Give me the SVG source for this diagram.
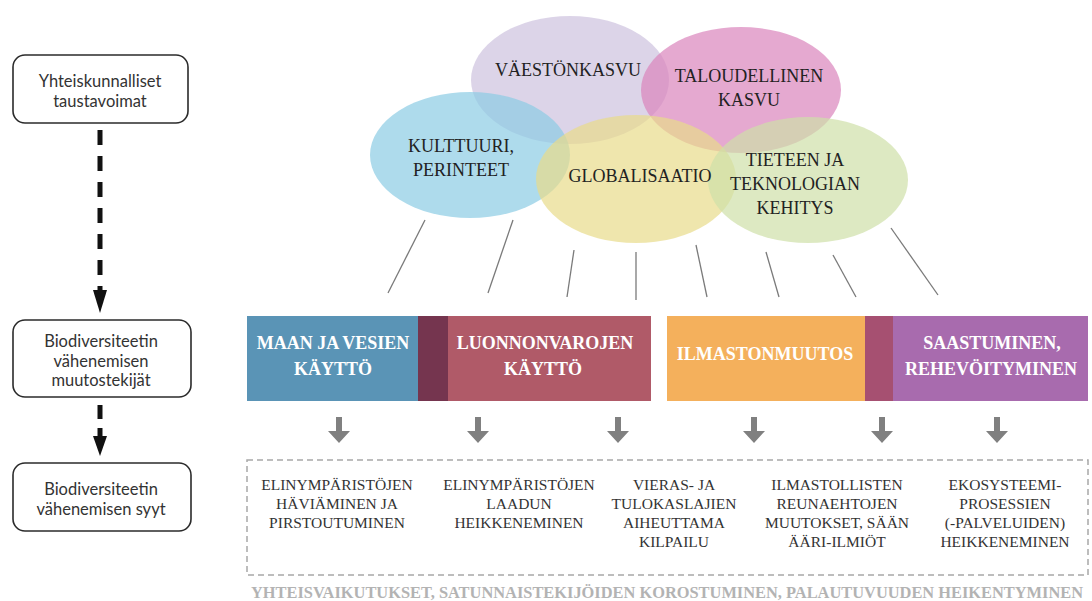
<svg xmlns="http://www.w3.org/2000/svg" width="1092" height="601" viewBox="0 0 1092 601">
<defs>
<style>
.lbox{fill:#fff;stroke:#2b2b2b;stroke-width:1.6}
.ltxt{font-family:Lato,"Open Sans",sans-serif;font-size:16.5px;fill:#333;text-anchor:middle}
.etxt{font-family:"Liberation Serif",serif;font-size:18px;fill:#222;text-anchor:middle}
.btxt{font-family:"Liberation Serif",serif;font-size:18px;font-weight:bold;fill:#fff;text-anchor:middle}
.ctxt{font-family:"Liberation Serif",serif;font-size:15.5px;fill:#333;text-anchor:middle}
.gtxt{font-family:"Liberation Serif",serif;font-size:16.4px;font-weight:bold;fill:#b3b3b3;text-anchor:middle}
.ell{fill-opacity:0.7}
.conn line{stroke:#7a7a7a;stroke-width:1.3}
.dash{stroke:#111;stroke-width:5;stroke-dasharray:15 11}
.garrow{fill:#808080}
</style>
</defs>

<!-- left column -->
<g id="box-taustavoimat">
<rect class="lbox" x="13" y="55" width="175" height="68" rx="12"/>
<text class="ltxt" x="100" y="87">Yhteiskunnalliset</text>
<text class="ltxt" x="100" y="107">taustavoimat</text>
</g>
<g id="box-muutostekijat">
<rect class="lbox" x="13" y="320" width="178" height="77" rx="12"/>
<text class="ltxt" x="101" y="347">Biodiversiteetin</text>
<text class="ltxt" x="101" y="367">vähenemisen</text>
<text class="ltxt" x="101" y="386">muutostekijät</text>
</g>
<g id="box-syyt">
<rect class="lbox" x="13" y="463" width="178" height="68" rx="12"/>
<text class="ltxt" x="101" y="495">Biodiversiteetin</text>
<text class="ltxt" x="101" y="515">vähenemisen syyt</text>
</g>

<g id="left-connectors">
<line class="dash" x1="100" y1="130" x2="100" y2="290"/>
<polygon points="93,290 107,290 100,313" fill="#111"/>
<line x1="100" y1="405" x2="100" y2="419" stroke="#111" stroke-width="5"/>
<line x1="100" y1="428" x2="100" y2="437" stroke="#111" stroke-width="5"/>
<polygon points="93,436 107,436 100,456" fill="#111"/>
</g>

<!-- ellipses -->
<g id="ell-vaesto"><ellipse class="ell" cx="570" cy="80" rx="99" ry="64" fill="#cdc2de"/></g>
<g id="ell-kulttuuri"><ellipse class="ell" cx="470" cy="155" rx="100" ry="63" fill="#8bcce4"/></g>
<g id="ell-talous"><ellipse class="ell" cx="741" cy="90" rx="100" ry="63" fill="#da84bc"/></g>
<g id="ell-globalisaatio"><ellipse class="ell" cx="636" cy="179" rx="100" ry="64" fill="#e8db8a"/></g>
<g id="ell-tiede"><ellipse class="ell" cx="808" cy="180" rx="100" ry="63" fill="#cee0a8"/></g>

<g id="ellipse-labels">
<text class="etxt" x="568" y="76">VÄESTÖNKASVU</text>
<text class="etxt" x="749" y="82">TALOUDELLINEN</text>
<text class="etxt" x="749" y="106">KASVU</text>
<text class="etxt" x="461" y="152">KULTTUURI,</text>
<text class="etxt" x="461" y="176">PERINTEET</text>
<text class="etxt" x="640" y="182">GLOBALISAATIO</text>
<text class="etxt" x="795" y="166">TIETEEN JA</text>
<text class="etxt" x="795" y="190">TEKNOLOGIAN</text>
<text class="etxt" x="795" y="214">KEHITYS</text>
</g>

<g id="connectors" class="conn">
<line x1="425" y1="220" x2="388" y2="293"/>
<line x1="513" y1="220" x2="488" y2="293"/>
<line x1="574" y1="250" x2="567" y2="297"/>
<line x1="636" y1="252" x2="636" y2="300"/>
<line x1="696" y1="245" x2="707" y2="297"/>
<line x1="766" y1="252" x2="779" y2="297"/>
<line x1="833" y1="255" x2="856" y2="297"/>
<line x1="891" y1="228" x2="938" y2="295"/>
</g>

<!-- driver bars -->
<g id="bar-maa">
<rect x="247" y="316" width="171" height="85" fill="#5a94b6"/>
<text class="btxt" x="333" y="349">MAAN JA VESIEN</text>
<text class="btxt" x="333" y="375">KÄYTTÖ</text>
</g>
<rect x="418" y="316" width="30" height="85" fill="#75354f"/>
<g id="bar-luonnonvarat">
<rect x="448" y="316" width="203" height="85" fill="#b05a68"/>
<text class="btxt" x="545" y="349">LUONNONVAROJEN</text>
<text class="btxt" x="543" y="375">KÄYTTÖ</text>
</g>
<g id="bar-ilmasto">
<rect x="667" y="316" width="198" height="85" fill="#f4b05c"/>
<text class="btxt" x="765" y="360">ILMASTONMUUTOS</text>
</g>
<rect x="865" y="316" width="28" height="85" fill="#a65071"/>
<g id="bar-saastuminen">
<rect x="893" y="316" width="195" height="85" fill="#a86bae"/>
<text class="btxt" x="992" y="349">SAASTUMINEN,</text>
<text class="btxt" x="991" y="375">REHEVÖITYMINEN</text>
</g>

<!-- gray arrows -->
<g id="gray-arrows" class="garrow">
<path d="M336,417 h6 v14 h8 l-11,12 l-11,-12 h8 z"/>
<path d="M475,417 h6 v14 h8 l-11,12 l-11,-12 h8 z"/>
<path d="M615,417 h6 v14 h8 l-11,12 l-11,-12 h8 z"/>
<path d="M751,417 h6 v14 h8 l-11,12 l-11,-12 h8 z"/>
<path d="M879,417 h6 v14 h8 l-11,12 l-11,-12 h8 z"/>
<path d="M994,417 h6 v14 h8 l-11,12 l-11,-12 h8 z"/>
</g>

<!-- causes box -->
<g id="causes">
<rect x="247" y="460" width="841" height="115" fill="none" stroke="#a8a8a8" stroke-width="1.5" stroke-dasharray="6 4"/>
<g id="cause-1">
<text class="ctxt" x="337" y="490">ELINYMPÄRISTÖJEN</text>
<text class="ctxt" x="337" y="509">HÄVIÄMINEN JA</text>
<text class="ctxt" x="337" y="528">PIRSTOUTUMINEN</text>
</g>
<g id="cause-2">
<text class="ctxt" x="519" y="490">ELINYMPÄRISTÖJEN</text>
<text class="ctxt" x="519" y="509">LAADUN</text>
<text class="ctxt" x="519" y="528">HEIKKENEMINEN</text>
</g>
<g id="cause-3">
<text class="ctxt" x="674" y="490">VIERAS- JA</text>
<text class="ctxt" x="674" y="509">TULOKASLAJIEN</text>
<text class="ctxt" x="674" y="528">AIHEUTTAMA</text>
<text class="ctxt" x="674" y="547">KILPAILU</text>
</g>
<g id="cause-4">
<text class="ctxt" x="837" y="490">ILMASTOLLISTEN</text>
<text class="ctxt" x="837" y="509">REUNAEHTOJEN</text>
<text class="ctxt" x="837" y="528">MUUTOKSET, SÄÄN</text>
<text class="ctxt" x="837" y="547">ÄÄRI-ILMIÖT</text>
</g>
<g id="cause-5">
<text class="ctxt" x="1005" y="490">EKOSYSTEEMI-</text>
<text class="ctxt" x="1005" y="509">PROSESSIEN</text>
<text class="ctxt" x="1005" y="528">(-PALVELUIDEN)</text>
<text class="ctxt" x="1005" y="547">HEIKKENEMINEN</text>
</g>
</g>
<g id="footer">
<text class="gtxt" x="667" y="598">YHTEISVAIKUTUKSET, SATUNNAISTEKIJÖIDEN KOROSTUMINEN, PALAUTUVUUDEN HEIKENTYMINEN</text>
</g>
</svg>
